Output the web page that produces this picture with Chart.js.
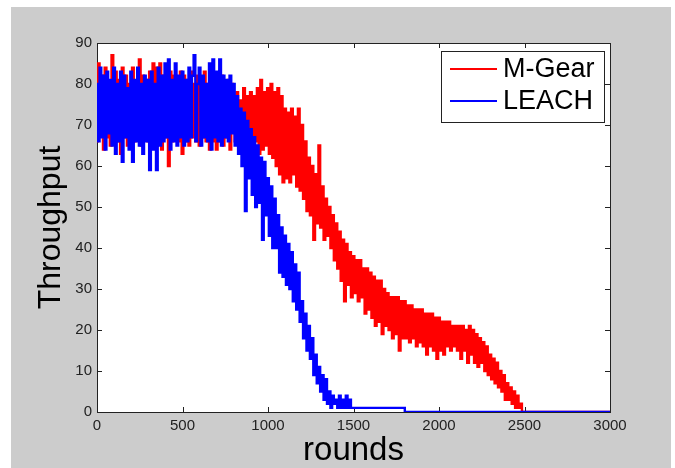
<!DOCTYPE html>
<html lang="en">
<head>
    <meta charset="UTF-8">
    <title>Throughput vs rounds</title>
    <script src="https://cdn.jsdelivr.net/npm/chart.js"></script>
    <style>
        body { margin: 0; background: #fff; }
        .wrap { position: relative; width: 675px; height: 468px; }
        .gray { position: absolute; left: 11px; top: 7px; right: 4px; bottom: 0; background: #cccccc; }
        canvas { position: absolute; left: 0; top: 0; }
    </style>
</head>
<body>

    <div class="wrap">
        <div class="gray"></div>
        <canvas id="tpChart" width="675" height="468"></canvas>
    </div>

    <script>
        // rounds are sampled every 10 rounds in the noisy part
        const step = 10;
        const xTicks = [0, 500, 1000, 1500, 2000, 2500, 3000];
        const yTicks = [0, 10, 20, 30, 40, 50, 60, 70, 80, 90];

        // M-Gear throughput, rounds 0..2490
        const mgear = [
            66, 85, 68, 82, 64, 84, 67, 80, 65, 87,
            68, 83, 66, 81, 63, 84, 67, 82, 65, 80,
            67, 84, 66, 80, 68, 86, 65, 82, 67, 81,
            66, 83, 65, 85, 67, 84, 66, 85, 64, 82,
            67, 81, 60, 83, 66, 82, 68, 80, 66, 83,
            63, 82, 66, 81, 65, 83, 67, 80, 66, 82,
            65, 81, 67, 83, 66, 80, 64, 82, 66, 81,
            64, 80, 66, 82, 65, 79, 67, 81, 64, 80,
            77, 66, 78, 65, 76, 67, 79, 64, 77, 66,
            78, 64, 77, 66, 79, 63, 81, 64, 78, 65,
            79, 63, 80, 62, 78, 60, 79, 58, 77, 56,
            74, 57, 73, 56, 74, 58, 72, 55, 74, 54,
            70, 52, 66, 49, 62, 48, 60, 42, 58, 46,
            65, 45, 55, 42, 52, 43, 50, 40, 48, 37,
            46, 35, 44, 32, 42, 27, 41, 31, 39, 28,
            38, 29, 37, 27, 37, 28, 35, 24, 35, 25,
            34, 23, 33, 21, 32, 22, 32, 19, 30, 21,
            29, 20, 28, 18, 28, 19, 28, 15, 27, 18,
            27, 18, 26, 17, 26, 18, 25, 16, 25, 17,
            25, 16, 24, 14, 24, 16, 24, 15, 23, 13,
            23, 15, 22, 14, 22, 16, 22, 15, 21, 16,
            21, 15, 21, 13, 21, 15, 20, 12, 21, 14,
            20, 12, 19, 11, 18, 12, 17, 10, 16, 9,
            14, 8, 13, 7, 12, 6, 10, 5, 9, 3,
            7, 3, 6, 2, 5, 1, 4, 1, 2, 0
        ];
        const mgearTail = [[2500, 0], [3000, 0]];

        // LEACH throughput, rounds 0..1490
        const leach = [
            80, 66, 84, 67, 82, 64, 83, 68, 81, 65,
            84, 63, 80, 66, 83, 61, 82, 67, 79, 64,
            83, 61, 81, 66, 84, 65, 80, 63, 82, 66,
            81, 59, 83, 64, 80, 59, 84, 65, 82, 66,
            85, 67, 86, 64, 81, 66, 85, 65, 82, 67,
            83, 65, 81, 66, 84, 67, 82, 87, 66, 80,
            84, 65, 82, 67, 80, 66, 85, 64, 86, 67,
            83, 66, 86, 65, 82, 67, 81, 66, 82, 68,
            80, 65, 77, 63, 74, 60, 73, 49, 71, 57,
            69, 53, 67, 50, 65, 51, 62, 42, 61, 48,
            57, 43, 55, 40, 52, 40, 48, 34, 45, 33,
            43, 31, 41, 30, 39, 27, 36, 25, 34, 22,
            27, 18, 24, 15, 21, 13, 18, 9, 14, 7,
            11, 5, 9, 3, 8, 2, 5, 1, 4, 2,
            3, 1, 4, 1, 3, 1, 4, 1, 3, 1
        ];
        const leachTail = [[1500, 1], [1800, 1], [1800, 0], [3000, 0]];

        function toPoints(vals, tail) {
            const pts = vals.map((v, i) => ({ x: i * step, y: v }));
            tail.forEach(p => pts.push({ x: p[0], y: p[1] }));
            return pts;
        }

        const tickFont = { family: "'Liberation Sans Narrow', 'Liberation Sans', Arial", size: 15 };
        const titleFamily = "'Liberation Sans', Arial";

        // white axes box, inward ticks on all four sides (matlab look)
        const axesBox = {
            id: "axesBox",
            beforeDraw(chart) {
                const a = chart.chartArea, ctx = chart.ctx;
                ctx.save();
                ctx.fillStyle = "#fff";
                ctx.fillRect(a.left, a.top, a.right - a.left, a.bottom - a.top);
                ctx.restore();
            },
            beforeDatasetsDraw(chart) {
                const a = chart.chartArea, ctx = chart.ctx;
                const xs = chart.scales.x, ys = chart.scales.y;
                ctx.save();
                ctx.strokeStyle = "#222";
                ctx.lineWidth = 1;
                ctx.beginPath();
                xTicks.forEach(v => {
                    const px = Math.round(xs.getPixelForValue(v)) + 0.5;
                    ctx.moveTo(px, a.bottom); ctx.lineTo(px, a.bottom - 5);
                    ctx.moveTo(px, a.top); ctx.lineTo(px, a.top + 5);
                });
                yTicks.forEach(v => {
                    const py = Math.round(ys.getPixelForValue(v)) + 0.5;
                    ctx.moveTo(a.left, py); ctx.lineTo(a.left + 5, py);
                    ctx.moveTo(a.right, py); ctx.lineTo(a.right - 5, py);
                });
                ctx.stroke();
                ctx.strokeRect(Math.round(a.left) + 0.5, Math.round(a.top) + 0.5,
                    Math.round(a.right - a.left), Math.round(a.bottom - a.top));
                ctx.restore();
            },
            afterDraw(chart) {
                const a = chart.chartArea, ctx = chart.ctx;
                const w = 163, h = 71;
                const lx = a.right - 6 - w, ly = a.top + 8;
                ctx.save();
                ctx.fillStyle = "#fff";
                ctx.fillRect(lx, ly, w, h);
                ctx.strokeStyle = "#222";
                ctx.lineWidth = 1;
                ctx.strokeRect(Math.round(lx) + 0.5, Math.round(ly) + 0.5, w, h);
                const items = [["M-Gear", "#ff0000"], ["LEACH", "#0000ff"]];
                ctx.font = "27px " + titleFamily;
                ctx.textBaseline = "middle";
                items.forEach((it, i) => {
                    const y = ly + 18 + i * 32;
                    ctx.strokeStyle = it[1];
                    ctx.lineWidth = 2;
                    ctx.beginPath();
                    ctx.moveTo(lx + 9, y); ctx.lineTo(lx + 56, y);
                    ctx.stroke();
                    ctx.fillStyle = "#000";
                    ctx.fillText(it[0], lx + 62, y + 1);
                });
                ctx.restore();
            }
        };

        new Chart(document.getElementById("tpChart"), {
            type: "line",
            data: {
                datasets: [
                    {
                        label: "M-Gear",
                        data: toPoints(mgear, mgearTail),
                        borderColor: "#ff0000",
                        borderWidth: 2.4,
                        pointRadius: 0,
                        stepped: "middle",
                        order: 1
                    },
                    {
                        label: "LEACH",
                        data: toPoints(leach, leachTail),
                        borderColor: "#0000ff",
                        borderWidth: 2.4,
                        pointRadius: 0,
                        stepped: "middle",
                        order: 0
                    }
                ]
            },
            options: {
                responsive: false,
                animation: false,
                events: [],
                layout: { padding: { left: 0, top: 43, right: 65, bottom: 0 } },
                plugins: {
                    legend: { display: false },
                    tooltip: { enabled: false }
                },
                scales: {
                    x: {
                        type: "linear",
                        min: 0,
                        max: 3000,
                        afterFit: s => { s.height = 56; },
                        afterBuildTicks: s => { s.ticks = xTicks.map(v => ({ value: v })); },
                        grid: { display: false, drawTicks: false },
                        border: { display: false },
                        ticks: { font: tickFont, color: "#222", padding: 5, maxRotation: 0, callback: v => String(v) },
                        title: {
                            display: true,
                            text: "rounds",
                            color: "#000",
                            font: { family: titleFamily, size: 33, lineHeight: 1 },
                            padding: { top: 0, bottom: 1 }
                        }
                    },
                    y: {
                        min: 0,
                        max: 90,
                        afterFit: s => { s.width = 97; },
                        afterBuildTicks: s => { s.ticks = yTicks.map(v => ({ value: v })); },
                        grid: { display: false, drawTicks: false },
                        border: { display: false },
                        ticks: { font: tickFont, color: "#222", padding: 5, callback: v => String(v) },
                        title: {
                            display: true,
                            text: "Throughput",
                            color: "#000",
                            font: { family: titleFamily, size: 32, lineHeight: 1 },
                            padding: { top: 35, bottom: 0 }
                        }
                    }
                }
            },
            plugins: [axesBox]
        });
    </script>

</body>
</html>
